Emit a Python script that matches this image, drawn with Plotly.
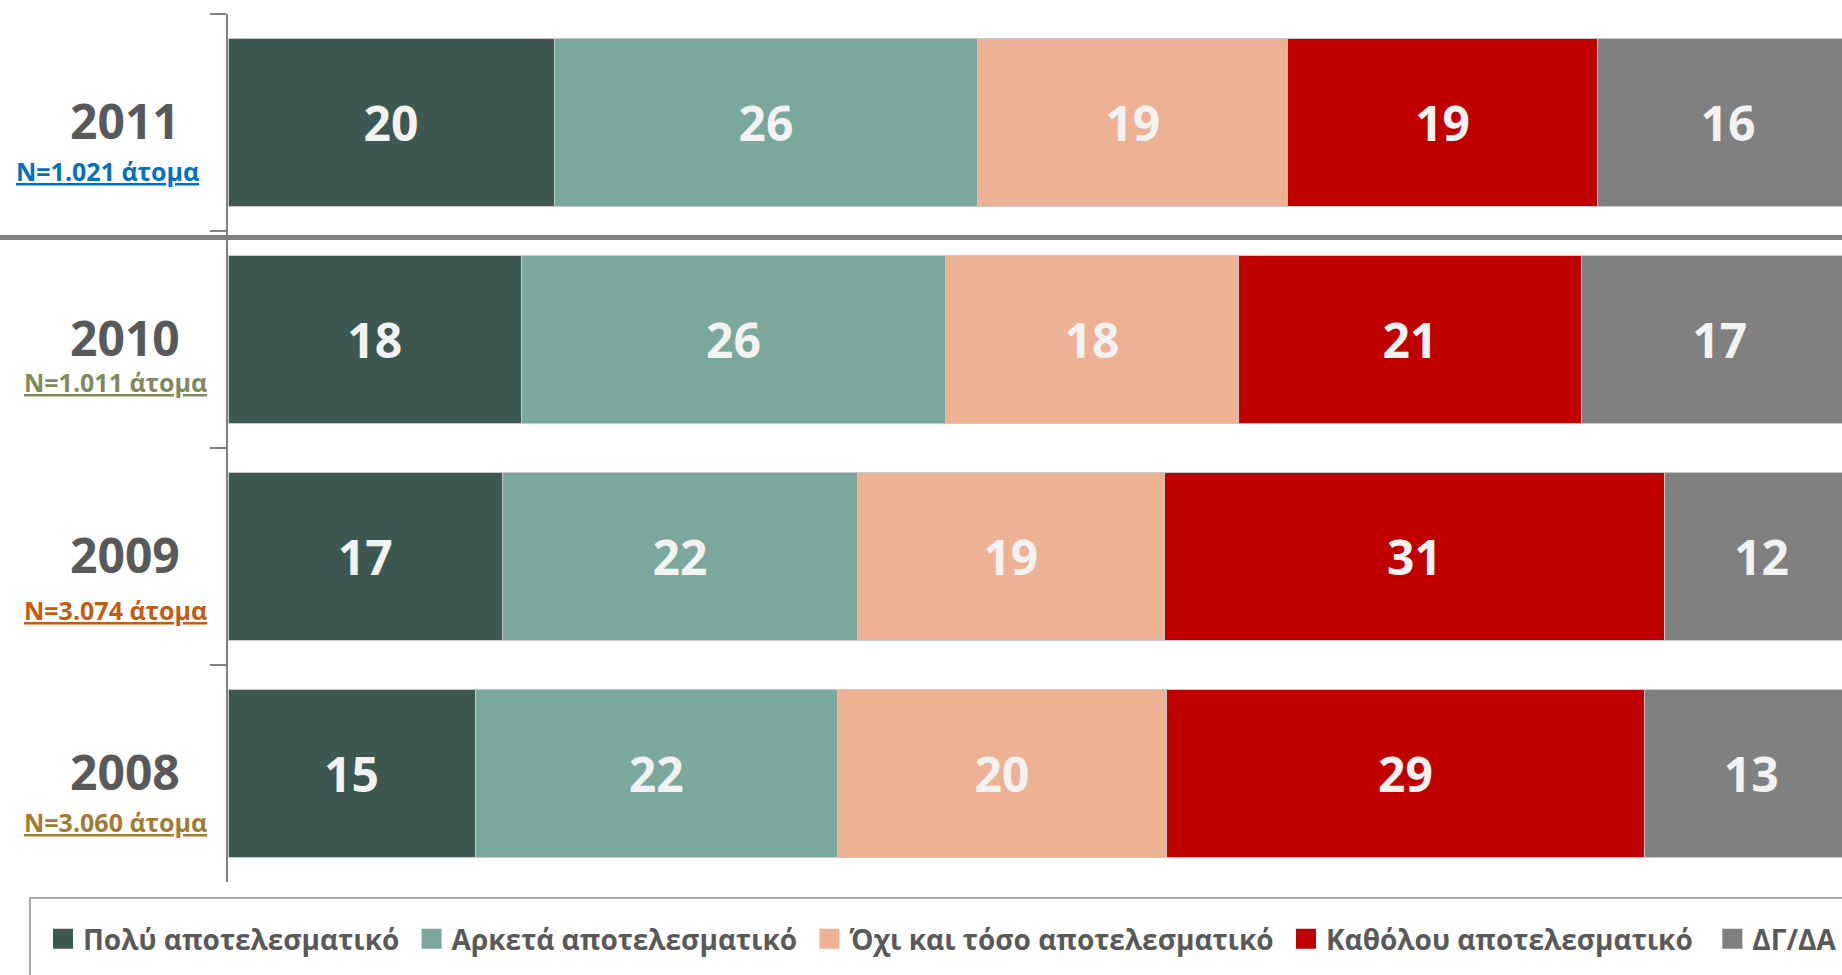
import plotly.graph_objects as go

# ---------------- data ----------------
years = ["2011", "2010", "2009", "2008"]
n_labels = ["N=1.021 άτομα", "N=1.011 άτομα", "N=3.074 άτομα", "N=3.060 άτομα"]
n_colors = ["#0070C0", "#7F8A5C", "#C55A11", "#A27B32"]

categories = [
    "Πολύ αποτελεσματικό",
    "Αρκετά αποτελεσματικό",
    "Όχι και τόσο αποτελεσματικό",
    "Καθόλου αποτελεσματικό",
    "ΔΓ/ΔΑ",
]
poly = [20, 18, 17, 15]
arketa = [26, 26, 22, 22]
ochi = [19, 18, 19, 20]
katholou = [19, 21, 31, 29]
dgda = [16, 17, 12, 13]
series = [poly, arketa, ochi, katholou, dgda]
colors = ["#3C5850", "#7BA89C", "#EDB294", "#C00000", "#808080"]

# ---------------- layout constants ----------------
W, H = 1842, 975
ML, MR, MT, MB = 228, 0, 14, 93
PW, PH = W - ML - MR, H - MT - MB
FONT = "Open Sans"
GREY_TXT = "#595959"
LEGEND_PAD = [1, 1, 1, 2, 0]  # trailing non-breaking spaces after each legend entry


def px_x(x):
    return (x - ML) / PW


def px_y(y):
    return (H - MB - y) / PH


fig = go.Figure()

for cat, vals, col in zip(categories, series, colors):
    fig.add_trace(go.Bar(
        orientation="h",
        y=years,
        x=vals,
        name=cat,
        legendgroup=cat,
        showlegend=False,
        text=vals,
        texttemplate="%{text}",
        textposition="inside",
        insidetextanchor="middle",
        textangle=0,
        textfont=dict(family=FONT, size=48, color="#F2F2F2", weight="bold"),
        marker=dict(color=col, line=dict(color="#C8C8C8", width=1)),
        hoverinfo="skip",
    ))

# legend proxies (bigger square swatches)
for cat, col, npad in zip(categories, colors, LEGEND_PAD):
    fig.add_trace(go.Scatter(
        x=[None], y=[None], mode="markers",
        name=cat + "\u00a0" * npad, legendgroup=cat,
        marker=dict(symbol="square", size=16, color=col, line=dict(color=col, width=4)),
        hoverinfo="skip",
    ))

# year / sample-size labels (y given as category index: 0 = top row)
n_xshift = [-120.5, -112.5, -112.5, -112.5]
n_yshift = [-48.5, -42, -53, -48]
for idx, (yr, nl, nc, xs, ys) in enumerate(zip(years, n_labels, n_colors, n_xshift, n_yshift)):
    fig.add_annotation(
        xref="paper", yref="y", x=0, y=idx, xshift=-103.5, yshift=2,
        text=yr, showarrow=False, xanchor="center", yanchor="middle",
        font=dict(family=FONT, size=48, color=GREY_TXT, weight="bold"),
    )
    fig.add_annotation(
        xref="paper", yref="y", x=0, y=idx, xshift=xs, yshift=ys,
        text="<u>" + nl + "</u>", showarrow=False, xanchor="center", yanchor="middle",
        font=dict(family=FONT, size=25, color=nc, weight="bold"),
    )

# separator between 2011 and earlier years
fig.add_shape(type="line", xref="paper", yref="paper", x0=-0.2, x1=1.05,
              y0=px_y(237.5), y1=px_y(237.5),
              line=dict(color="#808080", width=5), layer="above")

# legend frame
fig.add_shape(type="rect", xref="paper", yref="paper",
              x0=px_x(30), x1=px_x(W + 40), y0=px_y(898), y1=px_y(H + 40),
              line=dict(color="#8C8C8C", width=1.5), fillcolor="rgba(0,0,0,0)")

fig.update_layout(
    width=W, height=H,
    margin=dict(l=ML, r=MR, t=MT, b=MB, pad=0),
    paper_bgcolor="white", plot_bgcolor="white",
    barmode="stack", barnorm="percent", bargap=0.226,
    showlegend=True,
    legend=dict(
        orientation="h", x=px_x(68), xanchor="left", y=px_y(914), yanchor="top",
        font=dict(family=FONT, size=28, color=GREY_TXT, weight="bold"),
        bgcolor="rgba(0,0,0,0)", borderwidth=0, itemsizing="trace",
        traceorder="normal",
    ),
    xaxis=dict(range=[0, 99], autorange=False, showgrid=False, zeroline=False,
               showticklabels=False, showline=False, ticks=""),
    yaxis=dict(type="category", categoryorder="array", categoryarray=years,
               range=[3.5, -0.5], autorange=False, showgrid=False, zeroline=False,
               showticklabels=False, showline=True, linecolor="#808080", linewidth=2,
               ticks="outside", tickson="boundaries", ticklen=16, tickcolor="#808080",
               tickwidth=2),
    font=dict(family=FONT),
)

fig.write_html("out.html", config={"displayModeBar": False},
               post_script="document.body.style.margin='0';")
